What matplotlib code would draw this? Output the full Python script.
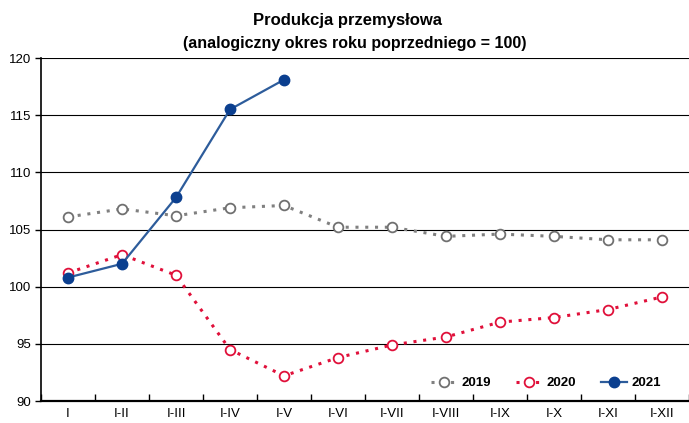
import matplotlib
matplotlib.use("Agg")
import matplotlib.pyplot as plt

plt.rcParams['font.family'] = ['Liberation Sans', 'DejaVu Sans']

categories = ["I", "I-II", "I-III", "I-IV", "I-V", "I-VI", "I-VII", "I-VIII", "I-IX", "I-X", "I-XI", "I-XII"]
s2019 = [106.1, 106.8, 106.2, 106.9, 107.1, 105.2, 105.2, 104.4, 104.6, 104.4, 104.1, 104.1]
s2020 = [101.2, 102.8, 101.0, 94.5, 92.2, 93.8, 94.9, 95.6, 96.9, 97.3, 98.0, 99.1]
s2021 = [100.8, 102.0, 107.8, 115.5, 118.1]
yticks = [90, 95, 100, 105, 110, 115, 120]

fig = plt.figure(figsize=(6.89, 4.23), dpi=100)
ax = fig.add_axes([41/689, 1-401/423, 648/689, (401-58)/423])

x = list(range(len(categories)))
ax.plot(x, s2019, color='#808080', linestyle=(0, (1, 2.2)), linewidth=2.2,
        marker='o', markersize=7, markerfacecolor='white', markeredgecolor='#707070',
        markeredgewidth=1.3, label='2019', zorder=3)
ax.plot(x, s2020, color='#E0103A', linestyle=(0, (1, 2.2)), linewidth=2.2,
        marker='o', markersize=7, markerfacecolor='white', markeredgecolor='#E0103A',
        markeredgewidth=1.3, label='2020', zorder=3)
ax.plot(x[:len(s2021)], s2021, color='#2D5C9B', linewidth=1.6,
        marker='o', markersize=7.5, markerfacecolor='#0B3F8F', markeredgecolor='#0B3F8F',
        label='2021', zorder=4)

ax.set_xlim(-0.5, len(categories) - 0.5)
ax.set_ylim(90, 120)
ax.set_yticks(yticks)
ax.set_yticklabels([str(v) for v in yticks], fontsize=9.5)
ax.set_xticks(x)
ax.set_xticklabels(categories, fontsize=9.5)
ax.set_xticks([i - 0.5 for i in range(len(categories) + 1)], minor=True)
ax.tick_params(axis='x', which='major', length=0, pad=5)
ax.tick_params(axis='x', which='minor', length=5, width=1, direction='in', color='black')
ax.tick_params(axis='y', length=4, width=1, direction='out', pad=3)
ax.grid(axis='y', color='black', linewidth=0.8)
ax.set_axisbelow(True)
for s in ['top', 'right']:
    ax.spines[s].set_visible(False)
ax.spines['left'].set_linewidth(1.2)
ax.spines['bottom'].set_linewidth(1.6)

leg = ax.legend(loc='lower right', bbox_to_anchor=(0.975, 0.0), ncol=3, frameon=False,
                handlelength=2.0, columnspacing=1.9, handletextpad=0.3,
                prop={'weight': 'bold', 'size': 9.5})

fig.text(0.505, 0.952, "Produkcja przemysłowa", ha='center', va='center',
         fontsize=12, fontweight='bold')
fig.text(0.515, 0.898, "(analogiczny okres roku poprzedniego = 100)", ha='center', va='center',
         fontsize=11.5, fontweight='bold')

fig.savefig('out.png', dpi=100)
